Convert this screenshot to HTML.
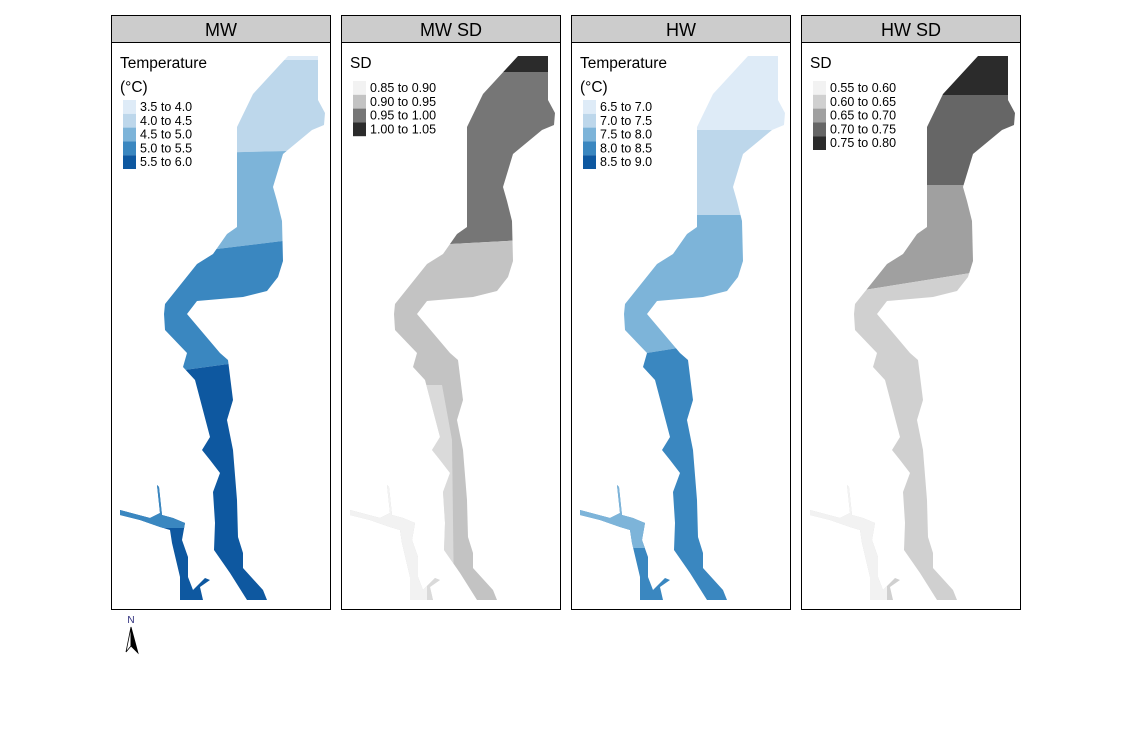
<!DOCTYPE html>
<html><head><meta charset="utf-8">
<style>
html,body{margin:0;padding:0;background:#fff;}
svg{display:block;font-family:"Liberation Sans",sans-serif;}
</style></head>
<body>
<svg id="chart" width="1133" height="752" viewBox="0 0 1133 752" xmlns="http://www.w3.org/2000/svg">
<defs>
<clipPath id="riverClip">
<path id="riverPath" d="M288,56 L253,94 L237,127 L237,227 L227,234 L213,254 L197,264 L165,304 L164,314 L165,330 L187,353 L183,367 L195,380 L210,437 L202,450 L210,460 L220,473 L213,492 L215,523 L214,550 L230,573 L247,600 L267,600 L263,590 L243,568 L243,553 L238,537 L237,500 L233,450 L227,420 L233,400 L228,360 L220,353 L187,314 L197,301 L243,297 L267,291 L278,277 L283,261 L282,221 L277,201 L273,187 L283,154 L312,130 L324,125 L325,113 L318,100 L318,56 Z M157,485 L160,513 L150,518 L120,510 L120,515 L140,520 L160,527 L170,530 L172,543 L180,577 L180,600 L203,600 L200,587 L210,580 L205,578 L193,590 L188,577 L188,557 L182,540 L185,523 L173,518 L162,515 L159,487 Z"/>
</clipPath>
</defs>
</svg>
<script>
// Panel titles and legend data
const panelTitles = ["MW", "MW SD", "HW", "HW SD"];
const legendTitles = [["Temperature","(°C)"], ["SD"], ["Temperature","(°C)"], ["SD"]];
const mwLabels = ["3.5 to 4.0","4.0 to 4.5","4.5 to 5.0","5.0 to 5.5","5.5 to 6.0"];
const mwsdLabels = ["0.85 to 0.90","0.90 to 0.95","0.95 to 1.00","1.00 to 1.05"];
const hwLabels = ["6.5 to 7.0","7.0 to 7.5","7.5 to 8.0","8.0 to 8.5","8.5 to 9.0"];
const hwsdLabels = ["0.55 to 0.60","0.60 to 0.65","0.65 to 0.70","0.70 to 0.75","0.75 to 0.80"];
const bluePalette = ["#deebf7","#bdd7eb","#7db4d9","#3a87c0","#0e58a0"];
const gray4Palette = ["#f2f2f2","#c3c3c3","#767676","#2b2b2b"];
const gray5Palette = ["#f2f2f2","#d0d0d0","#a0a0a0","#666666","#2b2b2b"];
// Class zones along the river (top class first): boundary y at left/right panel edge
const mwClasses = [0,1,2,3,4];
const mwBreaksLeft = [60,155,262,380];
const mwBreaksRight = [60,150,235,350];
const mwTribClass = 3;
const mwsdClasses = [3,2,1];
const mwsdBreaksLeft = [72,250];
const mwsdBreaksRight = [72,238];
const mwsdTribClass = 0;
const hwClasses = [0,1,2,3];
const hwBreaksLeft = [130,215,365];
const hwBreaksRight = [130,215,330];
const hwTribClass = 2;
const hwsdClasses = [4,3,2,1];
const hwsdBreaksLeft = [95,185,300];
const hwsdBreaksRight = [95,185,265];
const hwsdTribClass = 0;

const NS="http://www.w3.org/2000/svg";
const svg=document.getElementById('chart');
function mk(tag,attrs,parent){const e=document.createElementNS(NS,tag);for(const k in attrs)e.setAttribute(k,attrs[k]);(parent||svg).appendChild(e);return e;}

const panels=[
 {labels:mwLabels,pal:bluePalette,cls:mwClasses,bl:mwBreaksLeft,br:mwBreaksRight,trib:mwTribClass,name:'mw'},
 {labels:mwsdLabels,pal:gray4Palette,cls:mwsdClasses,bl:mwsdBreaksLeft,br:mwsdBreaksRight,trib:mwsdTribClass,name:'mw-sd',light:true},
 {labels:hwLabels,pal:bluePalette,cls:hwClasses,bl:hwBreaksLeft,br:hwBreaksRight,trib:hwTribClass,name:'hw'},
 {labels:hwsdLabels,pal:gray5Palette,cls:hwsdClasses,bl:hwsdBreaksLeft,br:hwsdBreaksRight,trib:hwsdTribClass,name:'hw-sd'}
];
const X0=111,X1=331;
panels.forEach((p,i)=>{
  const g=mk('g',{transform:'translate('+(230*i)+',0)'});
  
  
  const frame=mk('rect',{x:111.5,y:42.5,width:219,height:567,fill:'#fff',stroke:'#000','stroke-width':1},g);
  
  
  const hdr=mk('rect',{x:111.5,y:15.5,width:219,height:27,fill:'#cccccc',stroke:'#000','stroke-width':1},g);
  
  
  const t=mk('text',{x:221,y:36,'text-anchor':'middle','font-size':18,fill:'#000'},g);
  t.textContent=panelTitles[i];
  
  
  const rg=mk('g',{'clip-path':'url(#riverClip)'},g);
  
  
  const tops=[[0,0]].concat(p.bl.map((v,k)=>[v,p.br[k]]));
  const bots=p.bl.map((v,k)=>[v,p.br[k]]).concat([[760,760]]);
  p.cls.forEach((c,k)=>{
    const a=tops[k],b=bots[k];
    const poly=mk('polygon',{points:`${X0},${a[0]} ${X1},${a[1]} ${X1},${b[1]} ${X0},${b[0]}`,fill:p.pal[c]},rg);
    
    
  });
  if(p.light){
    const lz=mk('polygon',{points:'111,385 212,385 222,440 224,600 111,600',fill:p.pal[0],opacity:0.5},rg);
    
    
  }
  const tr=mk('rect',{x:111,y:478,width:86,height:p.name==='hw'||p.name==='mw'?(p.name==='mw'?50:70):130,fill:p.pal[p.trib]},rg);
  
  
  const lt=legendTitles[i];
  lt.forEach((s,k)=>{
    const tx=mk('text',{x:120,y:68+k*24,'font-size':15.5,fill:'#000'},g);
    tx.textContent=s;
    
    
  });
  const y0=lt.length>1?100:81, h=13.8;
  p.labels.forEach((s,k)=>{
    const r=mk('rect',{x:123,y:y0+k*h,width:13,height:h,fill:p.pal[k]},g);
    
    
    const tx=mk('text',{x:140,y:y0+k*h+11,'font-size':12.5,fill:'#000'},g);
    tx.textContent=s;
    
    
  });
});
const na=mk('g',{});


const nt=mk('text',{x:131,y:623,'text-anchor':'middle','font-size':10,fill:'#2a2a7a'},na);
nt.textContent='N';
mk('polygon',{points:'131,627 126,652 131,646',fill:'#fff',stroke:'#000','stroke-width':0.8},na);
mk('polygon',{points:'131,627 138,653 131,646',fill:'#000',stroke:'#000','stroke-width':0.8},na);
</script>
</body></html>
